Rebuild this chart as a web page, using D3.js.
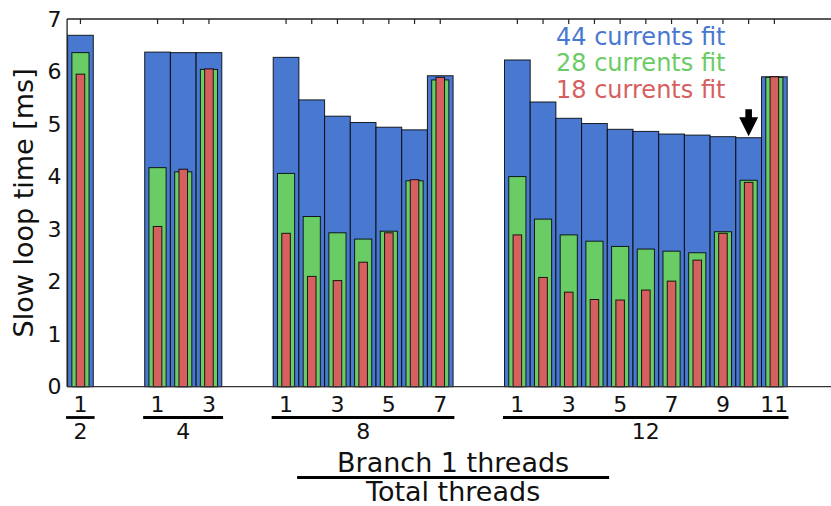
<!DOCTYPE html>
<html><head><meta charset="utf-8">
<script src="https://cdn.jsdelivr.net/npm/d3@7"></script>
<style>body{margin:0;background:#fff}svg{display:block}text{font-family:"DejaVu Sans",sans-serif}</style>
</head><body>
<script>
// ---- data ----
const totalThreads = [2, 4, 8, 12];
const branchThreads = [[1], [1, 2, 3], [1, 2, 3, 4, 5, 6, 7], [1, 2, 3, 4, 5, 6, 7, 8, 9, 10, 11]];
const fit44 = [6.69, 6.37, 6.36, 6.36, 6.27, 5.46, 5.15, 5.03, 4.94, 4.89, 5.92, 6.22, 5.42, 5.11, 5.01, 4.90, 4.86, 4.81, 4.79, 4.76, 4.74, 5.90];
const fit28 = [6.36, 4.17, 4.09, 6.04, 4.06, 3.24, 2.93, 2.81, 2.96, 3.92, 5.84, 4.00, 3.19, 2.89, 2.77, 2.67, 2.62, 2.58, 2.55, 2.95, 3.93, 5.89];
const fit18 = [5.95, 3.05, 4.14, 6.05, 2.92, 2.10, 2.02, 2.37, 2.93, 3.94, 5.89, 2.89, 2.08, 1.80, 1.66, 1.65, 1.84, 2.01, 2.41, 2.92, 3.89, 5.90];
const seriesNames = ["44 currents fit", "28 currents fit", "18 currents fit"];
const colors = ["#4878CF", "#6ACC65", "#D65F5F"];
const yTicks = [0, 1, 2, 3, 4, 5, 6, 7];
const arrowAt = {total: 12, branch: 10};

// ---- layout ----
const W = 831, H = 506;
const svg = d3.select("body").append("svg").attr("width", W).attr("height", H);
const gap = 2;
const bars = [];
let slot = 0;
const groups = [];
totalThreads.forEach((t, gi) => {
  const first = slot;
  branchThreads[gi].forEach(b => { bars.push({total: t, branch: b, slot: slot}); slot++; });
  groups.push({total: t, first: first, last: slot - 1});
  slot += gap;
});
bars.forEach((d, i) => { d.v = [fit44[i], fit28[i], fit18[i]]; });

const x = d3.scaleLinear().domain([-0.5, 29.5]).range([67.6, 67.6 + 30 * 25.7]);
const y = d3.scaleLinear().domain([0, 7]).range([386.7, 19]);
const widths = [1, 2 / 3, 1 / 3];

const plot = svg.append("g");
// bars
bars.forEach(d => {
  d.v.forEach((v, k) => {
    const w = widths[k];
    plot.append("rect")
      .attr("x", x(d.slot - w / 2)).attr("width", x(w) - x(0))
      .attr("y", y(v)).attr("height", y(0) - y(v))
      .attr("fill", colors[k]).attr("stroke", "#000").attr("stroke-opacity", 0.85).attr("stroke-width", 1);
  });
});

// spines
svg.append("line").attr("x1", x(-0.5) - 0.5).attr("x2", W).attr("y1", y(7)).attr("y2", y(7)).attr("stroke", "#222").attr("stroke-width", 1.3);
svg.append("line").attr("x1", x(-0.5) - 0.5).attr("x2", W).attr("y1", y(0)).attr("y2", y(0)).attr("stroke", "#333").attr("stroke-width", 1.3);
svg.append("line").attr("x1", x(-0.5) - 0.5).attr("x2", x(-0.5) - 0.5).attr("y1", y(7)).attr("y2", y(0)).attr("stroke", "#222").attr("stroke-width", 1.3);

// top ticks (inward)
bars.forEach(d => {
  svg.append("line").attr("x1", x(d.slot)).attr("x2", x(d.slot)).attr("y1", y(7)).attr("y2", y(7) + 5).attr("stroke", "#222").attr("stroke-width", 1.2);
});

// y axis
const yAxis = d3.axisLeft(y).tickValues(yTicks).tickSize(0).tickPadding(6).tickFormat(d3.format("d"));
const ya = svg.append("g").attr("transform", `translate(${x(-0.5)},0)`).call(yAxis);
ya.select(".domain").remove();
ya.selectAll("text").attr("font-size", 22).attr("fill", "#111").attr("font-family", "DejaVu Sans");

svg.append("text").attr("transform", `translate(33,${(y(0) + y(7)) / 2}) rotate(-90)`)
  .attr("text-anchor", "middle").attr("font-size", 27).attr("fill", "#111").text("Slow loop time [ms]");

// x tick labels (odd branch counts)
bars.filter(d => d.branch % 2 === 1).forEach(d => {
  svg.append("text").attr("x", x(d.slot)).attr("y", 411.5).attr("text-anchor", "middle")
    .attr("font-size", 22).attr("fill", "#111").text(d.branch);
});
// group fraction lines + totals
groups.forEach(g => {
  svg.append("line").attr("x1", x(g.first - 0.56)).attr("x2", x(g.last + 0.55))
    .attr("y1", 417.5).attr("y2", 417.5).attr("stroke", "#000").attr("stroke-width", 2.8);
  svg.append("text").attr("x", x((g.first + g.last) / 2)).attr("y", 438.5).attr("text-anchor", "middle")
    .attr("font-size", 22).attr("fill", "#111").text(g.total);
});

// axis title as fraction
svg.append("text").attr("x", x(14.5)).attr("y", 471.5).attr("text-anchor", "middle").attr("font-size", 27).attr("fill", "#111").text("Branch 1 threads");
svg.append("line").attr("x1", x(8.43)).attr("x2", x(20.57)).attr("y1", 477.5).attr("y2", 477.5).attr("stroke", "#000").attr("stroke-width", 2.8);
svg.append("text").attr("x", x(14.5)).attr("y", 501).attr("text-anchor", "middle").attr("font-size", 27).attr("fill", "#111").text("Total threads");

// legend texts
seriesNames.forEach((n, k) => {
  svg.append("text").attr("x", 556).attr("y", 45 + k * 26.3).attr("font-size", 24).attr("fill", colors[k]).text(n);
});

// arrow
const ab = bars.find(d => d.total === arrowAt.total && d.branch === arrowAt.branch);
const ax = x(ab.slot), tip = y(ab.v[0]) - 1.5;
svg.append("path")
  .attr("d", `M${ax},${tip} L${ax - 9.5},${tip - 19} L${ax - 3.3},${tip - 19} L${ax - 3.3},${tip - 27} L${ax + 3.3},${tip - 27} L${ax + 3.3},${tip - 19} L${ax + 9.5},${tip - 19} Z`)
  .attr("fill", "#000");
</script>
</body></html>
